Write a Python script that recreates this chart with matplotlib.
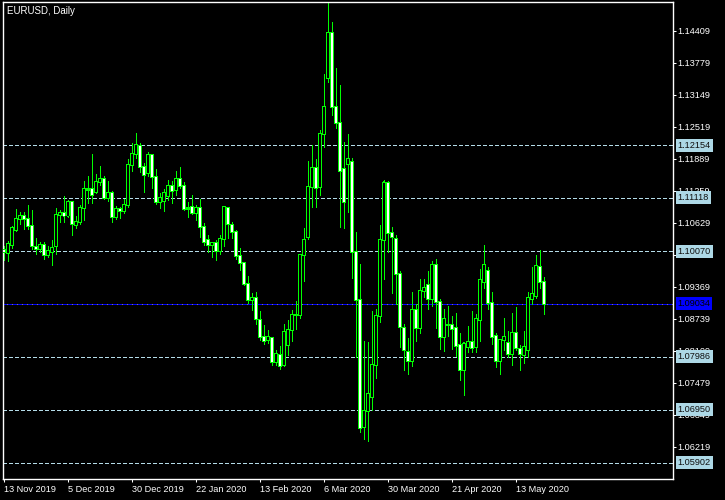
import matplotlib
matplotlib.use("Agg")
import matplotlib.pyplot as plt
import pandas as pd

# daily EURUSD bars, 13 Nov 2019 .. 22 May 2020 (no bars on 25 Dec and 1 Jan)
dates = [d for d in pd.bdate_range("2019-11-13", "2020-05-22")
         if not (d.month == 12 and d.day == 25) and not (d.month == 1 and d.day == 1)]

opens = [1.1009, 1.1004, 1.1019, 1.1049, 1.1071, 1.1077, 1.1071, 1.1057, 1.1015, 1.1011,
         1.1018, 1.0999, 1.1006, 1.1016, 1.1078, 1.1081, 1.1077, 1.1103, 1.1059, 1.1064,
         1.1091, 1.1128, 1.1129, 1.1123, 1.1143, 1.1148, 1.1112, 1.1121, 1.1075, 1.1089,
         1.1085, 1.1097, 1.1176, 1.1198, 1.1214, 1.1172, 1.1160, 1.1196, 1.1152, 1.1104,
         1.1106, 1.1115, 1.1135, 1.1127, 1.1148, 1.1135, 1.1090, 1.1093, 1.1081, 1.1091,
         1.1054, 1.1028, 1.1018, 1.1022, 1.1008, 1.1030, 1.1091, 1.1058, 1.1044, 1.0998,
         1.0983, 1.0942, 1.0911, 1.0914, 1.0872, 1.0838, 1.0832, 1.0835, 1.0789, 1.0803,
         1.0783, 1.0823, 1.0851, 1.0881, 1.0881, 1.0999, 1.1035, 1.1133, 1.1170, 1.1134,
         1.1237, 1.1347, 1.1436, 1.1290, 1.1260, 1.1168, 1.1178, 1.1183, 1.1005, 1.0911,
         1.0660, 1.0692, 1.0720, 1.0782, 1.0879, 1.1029, 1.1141, 1.1042, 1.1030, 1.0961,
         1.0855, 1.0809, 1.0791, 1.0891, 1.0855, 1.0928, 1.0941, 1.0912, 1.0980, 1.0907,
         1.0837, 1.0862, 1.0861, 1.0855, 1.0822, 1.0773, 1.0819, 1.0827, 1.0818, 1.0872,
         1.0947, 1.0968, 1.0905, 1.0840, 1.0791, 1.0831, 1.0826, 1.0804, 1.0845, 1.0815,
         1.0802, 1.0813, 1.0913, 1.0919, 1.0975, 1.0946]
highs = [1.1016, 1.1027, 1.1056, 1.1089, 1.1084, 1.1083, 1.1097, 1.1087, 1.1033, 1.1024,
         1.1024, 1.1016, 1.1029, 1.1091, 1.1088, 1.1115, 1.1108, 1.1106, 1.1077, 1.1097,
         1.1144, 1.1154, 1.1199, 1.1159, 1.1175, 1.1154, 1.1144, 1.1125, 1.1096, 1.1094,
         1.1110, 1.1188, 1.1220, 1.1239, 1.1219, 1.1180, 1.1203, 1.1198, 1.1169, 1.1121,
         1.1129, 1.1147, 1.1145, 1.1164, 1.1173, 1.1143, 1.1104, 1.1117, 1.1098, 1.1110,
         1.1062, 1.1039, 1.1024, 1.1029, 1.1039, 1.1096, 1.1094, 1.1064, 1.1048, 1.1014,
         1.0986, 1.0958, 1.0924, 1.0926, 1.0889, 1.0861, 1.0852, 1.0837, 1.0812, 1.0820,
         1.0863, 1.0871, 1.0891, 1.0909, 1.1000, 1.1052, 1.1184, 1.1216, 1.1188, 1.1245,
         1.1356, 1.1496, 1.1458, 1.1367, 1.1334, 1.1221, 1.1238, 1.1190, 1.1044, 1.0982,
         1.0830, 1.0827, 1.0888, 1.0893, 1.1058, 1.1147, 1.1145, 1.1054, 1.1039, 1.0968,
         1.0863, 1.0835, 1.0927, 1.0903, 1.0952, 1.0952, 1.0968, 1.0987, 1.0991, 1.0913,
         1.0893, 1.0898, 1.0880, 1.0886, 1.0846, 1.0827, 1.0859, 1.0889, 1.0884, 1.0972,
         1.1019, 1.0975, 1.0926, 1.0846, 1.0834, 1.0876, 1.0850, 1.0886, 1.0896, 1.0823,
         1.0850, 1.0926, 1.0976, 1.1000, 1.1009, 1.0955]
lows = [1.0990, 1.0988, 1.1014, 1.1047, 1.1060, 1.1051, 1.1051, 1.1011, 1.1002, 1.1005,
        1.0992, 1.0996, 1.0980, 1.1002, 1.1065, 1.1065, 1.1075, 1.1039, 1.1053, 1.1060,
        1.1068, 1.1102, 1.1102, 1.1121, 1.1137, 1.1109, 1.1106, 1.1065, 1.1070, 1.1073,
        1.1081, 1.1094, 1.1165, 1.1190, 1.1163, 1.1124, 1.1155, 1.1132, 1.1100, 1.1091,
        1.1085, 1.1108, 1.1102, 1.1118, 1.1131, 1.1087, 1.1075, 1.1080, 1.1068, 1.1035,
        1.1018, 1.1006, 1.0996, 1.0989, 1.1002, 1.1016, 1.1032, 1.1032, 1.0991, 1.0970,
        1.0940, 1.0905, 1.0890, 1.0863, 1.0832, 1.0824, 1.0825, 1.0783, 1.0783, 1.0775,
        1.0781, 1.0802, 1.0829, 1.0853, 1.0875, 1.0949, 1.1030, 1.1094, 1.1094, 1.1117,
        1.1211, 1.1339, 1.1274, 1.1250, 1.1055, 1.1053, 1.1083, 1.0953, 1.0799, 1.0651,
        1.0636, 1.0634, 1.0694, 1.0758, 1.0868, 1.0952, 1.1006, 1.0925, 1.0903, 1.0819,
        1.0772, 1.0765, 1.0781, 1.0829, 1.0845, 1.0917, 1.0892, 1.0898, 1.0855, 1.0814,
        1.0811, 1.0840, 1.0814, 1.0801, 1.0753, 1.0724, 1.0809, 1.0809, 1.0809, 1.0829,
        1.0934, 1.0893, 1.0824, 1.0779, 1.0765, 1.0812, 1.0798, 1.0783, 1.0812, 1.0773,
        1.0786, 1.0798, 1.0903, 1.0915, 1.0935, 1.0884]
closes = [1.1006, 1.1020, 1.1052, 1.1071, 1.1077, 1.1071, 1.1057, 1.1017, 1.1011, 1.1018,
          1.0999, 1.1007, 1.1014, 1.1078, 1.1081, 1.1077, 1.1103, 1.1060, 1.1064, 1.1091,
          1.1129, 1.1130, 1.1117, 1.1143, 1.1148, 1.1112, 1.1121, 1.1075, 1.1089, 1.1085,
          1.1097, 1.1176, 1.1198, 1.1216, 1.1172, 1.1156, 1.1197, 1.1152, 1.1104, 1.1111,
          1.1121, 1.1135, 1.1126, 1.1148, 1.1136, 1.1089, 1.1092, 1.1081, 1.1091, 1.1054,
          1.1024, 1.1018, 1.1022, 1.1008, 1.1030, 1.1093, 1.1060, 1.1044, 1.0998, 1.0983,
          1.0942, 1.0911, 1.0914, 1.0873, 1.0838, 1.0830, 1.0838, 1.0789, 1.0804, 1.0781,
          1.0848, 1.0851, 1.0881, 1.0882, 1.0999, 1.1028, 1.1133, 1.1170, 1.1132, 1.1238,
          1.1290, 1.1436, 1.1290, 1.1260, 1.1165, 1.1103, 1.1188, 1.1005, 1.0910, 1.0658,
          1.0692, 1.0726, 1.0783, 1.0879, 1.1029, 1.1142, 1.1042, 1.1035, 1.0961, 1.0857,
          1.0812, 1.0791, 1.0891, 1.0855, 1.0928, 1.0934, 1.0912, 1.0980, 1.0907, 1.0837,
          1.0873, 1.0861, 1.0854, 1.0821, 1.0773, 1.0825, 1.0827, 1.0817, 1.0873, 1.0950,
          1.0980, 1.0905, 1.0838, 1.0791, 1.0832, 1.0837, 1.0804, 1.0846, 1.0816, 1.0804,
          1.0818, 1.0914, 1.0922, 1.0978, 1.0947, 1.0903]

price_ticks = [1.14409, 1.13779, 1.13149, 1.12519, 1.11889, 1.11259, 1.10629, 1.09999,
               1.09369, 1.08739, 1.08109, 1.07479, 1.06849, 1.06219]
levels = [1.12154, 1.11118, 1.10070, 1.07986, 1.06950, 1.05902]
bid = 1.09034
date_labels = ["13 Nov 2019", "5 Dec 2019", "30 Dec 2019", "22 Jan 2020", "13 Feb 2020",
               "6 Mar 2020", "30 Mar 2020", "21 Apr 2020", "13 May 2020"]

plt.rcParams['font.family'] = ['Liberation Sans', 'DejaVu Sans']
fs = 6.6
green = '#00ff00'

fig = plt.figure(figsize=(7.25, 5), dpi=100, facecolor='black')
ax_h = 476.7
ax = fig.add_axes([2.5 / 725, 21 / 500, 670 / 725, ax_h / 500])
ax.set_facecolor('black')
ymin, ymax = 1.05582, 1.14968
ax.set_xlim(-0.375, 167.125)   # 4 px per bar
ax.set_ylim(ymin, ymax)
px = (ymax - ymin) / ax_h      # one pixel in price units

x = list(range(len(opens)))
ax.vlines(x, lows, highs, color=green, lw=0.72, zorder=2, antialiased=False)

lo = [min(o, c) for o, c in zip(opens, closes)]
hi = [max(o, c) for o, c in zip(opens, closes)]
# body outline: 3 px wide green box
ax.bar(x, [h - l + px for l, h in zip(lo, hi)], bottom=[l - px / 2 for l in lo],
       width=0.72, color=green, linewidth=0, zorder=3, antialiased=False, snap=False)
# body interior: black for rising bars, white for falling bars
inner = [(i, l, h, 'black' if c >= o else 'white')
         for i, (l, h, o, c) in enumerate(zip(lo, hi, opens, closes)) if h - l > 1.2 * px]
ax.bar([t[0] for t in inner], [t[2] - t[1] - px for t in inner],
       bottom=[t[1] + px / 2 for t in inner], width=0.28,
       color=[t[3] for t in inner], linewidth=0, zorder=4, antialiased=False, snap=False)

for lv in levels:
    ax.axhline(lv, color='#b4dce8', lw=0.72, ls=(0, (3, 2.5)), zorder=1, antialiased=False)
ax.axhline(bid, color='#808080', lw=0.72, zorder=1, antialiased=False)
ax.axhline(bid, color='#0000ff', lw=0.72, ls=(0, (4, 2)), zorder=1, antialiased=False)

for s in ax.spines.values():
    s.set_color('white')
    s.set_linewidth(1)

ax.yaxis.tick_right()
ax.set_yticks(price_ticks)
ax.set_yticklabels([f"{p:.5f}" for p in price_ticks])
tick_idx = [next(i for i, d in enumerate(dates) if d.strftime('%-d %b %Y') == lab)
            for lab in date_labels]
ax.set_xticks(tick_idx)
ax.set_xticklabels(date_labels, ha='left')
ax.tick_params(colors='white', labelsize=fs, length=2.2, width=0.75, pad=1.2)
ax.tick_params(axis='x', pad=2.2)

ytr = ax.get_yaxis_transform()
for lv in levels:
    ax.text(1.0075, lv, f"{lv:.5f}", transform=ytr, va='center', ha='left', fontsize=fs,
            color='#101010', clip_on=False, zorder=6,
            bbox=dict(boxstyle='square,pad=0.22', fc='#add8e6', ec='none'))
ax.text(1.0075, bid, f"{bid:.5f}", transform=ytr, va='center', ha='left', fontsize=fs,
        color='black', clip_on=False, zorder=6,
        bbox=dict(boxstyle='square,pad=0.22', fc='#0000ff', ec='none'))

fig.text(7 / 725, 1 - 11 / 500, "EURUSD, Daily", color='white', fontsize=7,
         va='center', ha='left')

fig.savefig("out.png", dpi=100, facecolor='black')
